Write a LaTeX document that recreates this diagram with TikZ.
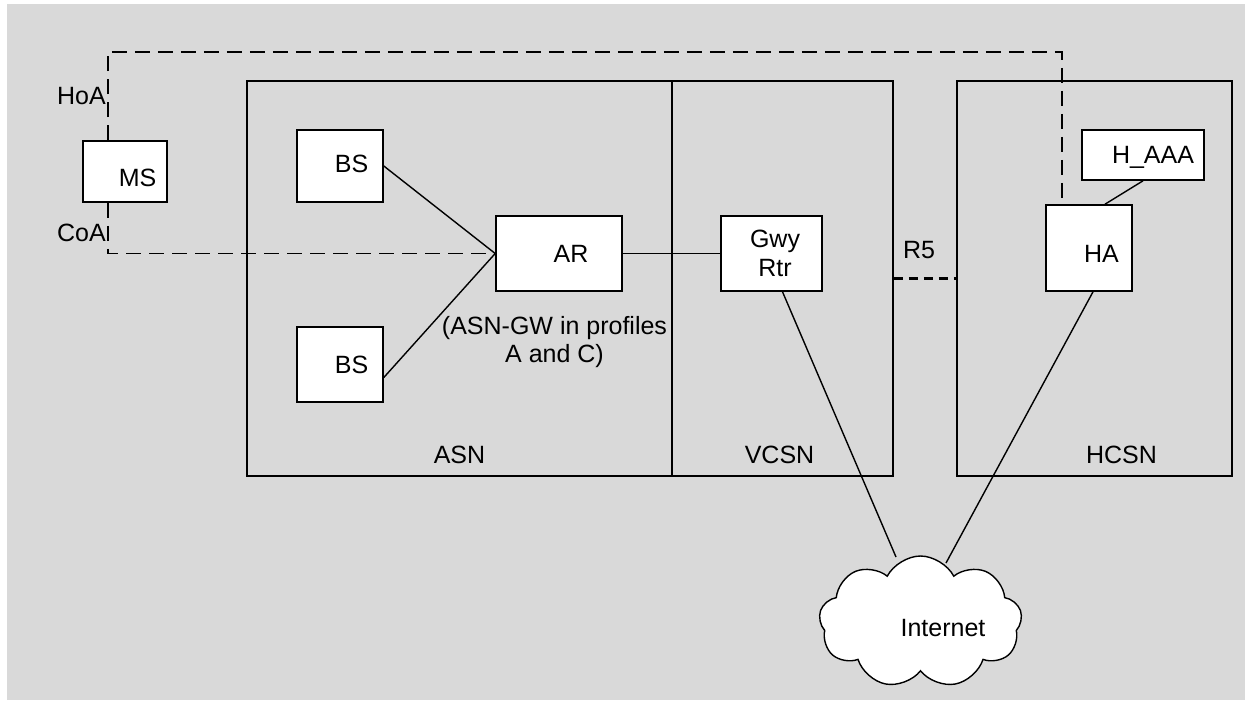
\documentclass[tikz,border=0pt]{standalone}
\usepackage{fontspec}
\setmainfont{Liberation Sans}
\usetikzlibrary{calc,positioning,shapes.symbols}
\definecolor{bggray}{HTML}{D9D9D9}

\begin{document}
\begin{tikzpicture}[x=1pt,y=-1pt,font=\fontsize{25}{28.5}\selectfont]
	\tikzset{box/.style={draw, fill=white, line width=1.6pt, inner sep=0pt},
		area/.style={draw, line width=1.6pt, inner sep=0pt},
		lbl/.style={inner sep=0pt, align=center},
		link/.style={line width=1.4pt},
		dsh/.style={line width=1.4pt, dash pattern=on 15pt off 8pt},
		rfive/.style={line width=3pt, dash pattern=on 9pt off 6pt},
	}
	\useasboundingbox (0,0) rectangle (1247,702);
	\fill[bggray] (7,4) rectangle (1245,700);

	% domains
	\node [area, minimum width=425, minimum height=395] (asn) at (459.5,278.5) {};
	\node [area, minimum width=221, minimum height=395] (vcsn) at (782.5,278.5) {};
	\node [area, minimum width=275, minimum height=395] (hcsn) at (1094.5,278.5) {};
	\node [lbl, above=13pt of asn.south] (asnlbl) {ASN};
	\node [lbl, above=13pt of vcsn.south, xshift=-3pt] (vcsnlbl) {VCSN};
	\node [lbl, above=13pt of hcsn.south, xshift=27pt] (hcsnlbl) {HCSN};

	% boxes
	\node [box, minimum width=84, minimum height=61,
		label={[lbl, xshift=12.5pt, yshift=-6pt]center:MS}] (ms) at (125,171.5) {};
	\node [box, minimum width=86, minimum height=72,
		label={[lbl, xshift=11.5pt, yshift=2pt]center:BS}] (bsa) at (340,166) {};
	\node [box, minimum width=86, minimum height=75,
		label={[lbl, xshift=11.5pt]center:BS}] (bsb) at (340,364.5) {};
	\node [box, minimum width=126, minimum height=75,
		label={[lbl, xshift=12pt]center:AR}] (ar) at (559,253.5) {};
	\node [box, minimum width=101, minimum height=75,
		label={[lbl, xshift=3.5pt]center:Gwy\\Rtr}] (gwy) at (771.5,253.5) {};
	\node [box, minimum width=86, minimum height=86,
		label={[lbl, xshift=12.5pt, yshift=-6pt]center:HA}] (ha) at (1089,248) {};
	\node [box, minimum width=122, minimum height=50,
		label={[lbl, xshift=10pt, yshift=-2.5pt]center:H\_AAA}] (haaa) at (1143,155) {};
	\node [cloud, draw, fill=white, line width=1.4pt, cloud puffs=9, cloud puff arc=125,
		cloud ignores aspect, minimum width=203, minimum height=132, inner sep=0pt,
		label={[lbl, xshift=22.5pt, yshift=-6pt]center:Internet}] (inet) at (920.5,622) {};

	\node [lbl] (gwnote) at (554.5,342) {(ASN-GW in profiles\\A and C)};
	\node [lbl] (hoa) at (81.5,96.5) {HoA};
	\node [lbl] (coa) at (81.5,232.5) {CoA};
	\node [lbl] (r5) at (919,250.5) {R5};

	% links
	\draw[link] (bsa.east) -- (ar.west);
	\draw[link] ([yshift=-13pt]bsb.east) -- (ar.west);
	\draw[link] (ar.east) -- (gwy.west);
	\draw[link] ([xshift=11pt]gwy.south) -- ($(inet.center)+(-24.5,-65)$);
	\draw[link] ([xshift=4pt]ha.south) -- ($(inet.center)+(25.5,-59)$);
	\draw[link] (haaa.south) -- ([xshift=16pt]ha.north);
	\draw[rfive] (vcsn.east) -- (hcsn.west);

	% tunnels
	\coordinate (hoatop) at (108,52);
	\draw[dsh] ([xshift=-17pt]ms.north) -- (hoatop) -| ([xshift=-27pt]ha.north);
	\draw[dsh] ([xshift=-17pt]ms.south) |- (ar.west);
\end{tikzpicture}
\end{document}
